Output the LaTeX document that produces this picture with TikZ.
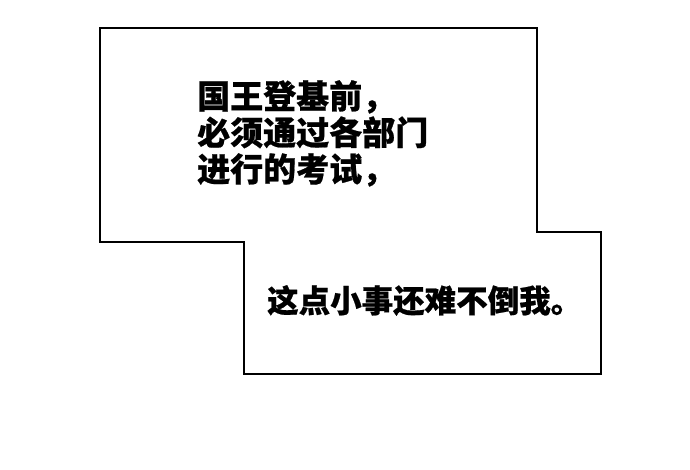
\documentclass[tikz,border=0pt]{standalone}
\usepackage{fontspec}
\newfontfamily\cjk[FakeBold=0.6]{Noto Sans CJK SC}
\begin{document}
\begin{tikzpicture}[x=1pt,y=-1pt,
  box/.style={draw=black,line width=1.3pt,fill=white},
  txt/.style={font=\cjk\bfseries,anchor=north west,align=left,inner sep=0pt}]
\useasboundingbox (0,0) rectangle (690,469);
\draw[box] (100,28) -- (537,28) -- (537,232) -- (601,232) -- (601,374) -- (244,374) -- (244,242) -- (100,242) -- cycle;
\node[txt,font=\cjk\bfseries\fontsize{33}{36.5}\selectfont] (t1) at (197,80) {国王登基前，\\必须通过各部门\\进行的考试，};
\node[txt,font=\cjk\bfseries\fontsize{31.5}{36}\selectfont] (t2) at (267,285) {这点小事还难不倒我。};
\end{tikzpicture}
\end{document}
